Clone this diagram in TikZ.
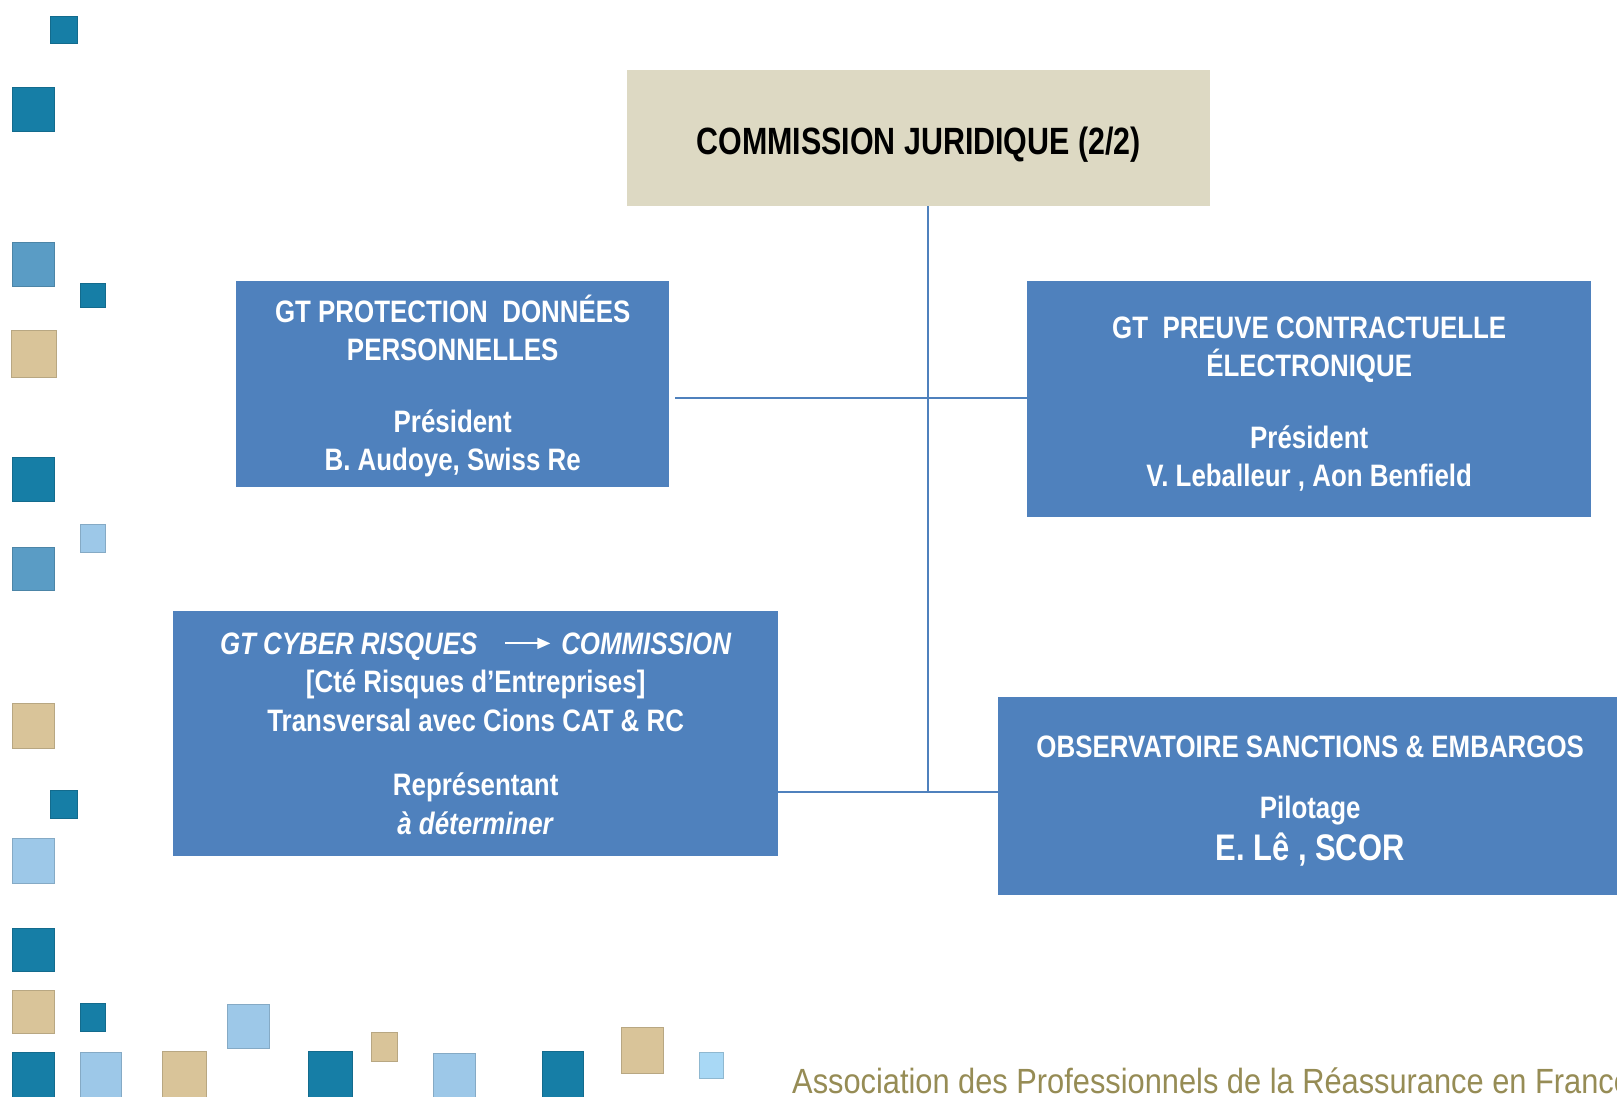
\documentclass[tikz,border=0pt]{standalone}
\usepackage{fontspec}
\setmainfont{Liberation Sans}[FakeStretch=0.835]
\newfontfamily\titlefont{Liberation Sans}[FakeStretch=0.80]
\newfontfamily\footfont{Liberation Sans}[FakeStretch=0.88]
\usetikzlibrary{arrows.meta}
\definecolor{boxblue}{HTML}{4F81BD}
\definecolor{topbeige}{HTML}{DDD9C3}
\definecolor{sqdark}{HTML}{167EA6}
\definecolor{sqmed}{HTML}{5A9CC5}
\definecolor{sqlight}{HTML}{9DC8E8}
\definecolor{sqpale}{HTML}{A8D8F5}
\definecolor{sqtan}{HTML}{D9C499}
\definecolor{footolive}{HTML}{968C55}
\newcommand\apsq[5]{\fill[#5, draw=#5!85!black, line width=1] (#1,#2) rectangle (#3,#4);}
\tikzset{
  gtbox/.style={fill=boxblue, text=white, inner sep=0, align=center, anchor=north west,
    font=\fontsize{31}{38.5}\selectfont\bfseries},
  conn/.style={draw=boxblue, line width=2},
}
\begin{document}
\begin{tikzpicture}[x=1pt,y=-1pt]
\useasboundingbox (0,0) rectangle (1617,1096);
\fill[white] (0,0) rectangle (1617,1096);
% decorative squares, left column
\apsq{50}{16}{77}{43}{sqdark}
\apsq{12}{87}{54}{131}{sqdark}
\apsq{12}{242}{54}{286}{sqmed}
\apsq{80}{283}{105}{307}{sqdark}
\apsq{11}{330}{56}{377}{sqtan}
\apsq{12}{457}{54}{501}{sqdark}
\apsq{80}{524}{105}{552}{sqlight}
\apsq{12}{547}{54}{590}{sqmed}
\apsq{12}{703}{54}{748}{sqtan}
\apsq{50}{790}{77}{818}{sqdark}
\apsq{12}{838}{54}{883}{sqlight}
\apsq{12}{928}{54}{971}{sqdark}
\apsq{12}{990}{54}{1033}{sqtan}
\apsq{80}{1003}{105}{1031}{sqdark}
\apsq{12}{1052}{54}{1100}{sqdark}
\apsq{80}{1052}{121}{1100}{sqlight}
% bottom row
\apsq{162}{1051}{206}{1100}{sqtan}
\apsq{227}{1004}{269}{1048}{sqlight}
\apsq{308}{1051}{352}{1100}{sqdark}
\apsq{371}{1032}{397}{1061}{sqtan}
\apsq{433}{1053}{475}{1100}{sqlight}
\apsq{542}{1051}{583}{1100}{sqdark}
\apsq{621}{1027}{663}{1073}{sqtan}
\apsq{699}{1052}{723}{1078}{sqpale}

% boxes
\node[fill=topbeige, inner sep=0, anchor=north west, minimum width=583, minimum height=136,
  text height=33pt, text depth=0pt,
  font=\titlefont\fontsize{38}{44}\selectfont\bfseries] (top) at (627,70) {COMMISSION JURIDIQUE (2/2)};

\node[gtbox, minimum width=433, minimum height=206] (prot) at (236,281)
  {\rule{0pt}{31pt}GT PROTECTION~ DONNÉES\\PERSONNELLES\\[33pt]Président\\B. Audoye, Swiss Re};

\node[gtbox, minimum width=564, minimum height=236] (preuve) at (1027,281)
  {\rule{0pt}{31pt}GT~ PREUVE CONTRACTUELLE\\ÉLECTRONIQUE\\[33pt]Président\\V. Leballeur , Aon Benfield};

\node[gtbox, minimum width=605, minimum height=245] (cyber) at (173,611)
  {\textit{GT CYBER RISQUES}\hspace{27pt}\tikz[baseline={(0pt,-11pt)}]\draw[white, line width=1.8pt, -{Triangle[length=13pt,width=11pt]}] (0pt,0pt) -- (45pt,0pt);\hspace{10pt}\textit{COMMISSION}\\
   {[}Cté Risques d’Entreprises{]}\\Transversal avec Cions CAT \& RC\\[26pt]Représentant\\\textit{à déterminer}};

\node[gtbox, minimum width=624, minimum height=198] (obs) at (998,697)
  {\rule{0pt}{31pt}OBSERVATOIRE SANCTIONS \& EMBARGOS\\[22.5pt]Pilotage\\[3pt]{\fontsize{37}{38.5}\selectfont E. Lê , SCOR}};

% connectors
\coordinate (j1) at (928,398);
\coordinate (j2) at (928,792);
\draw[conn] (top.south -| j1) -- (j1) -- (j2);
\draw[conn] ([xshift=6pt]prot.east |- j1) -- (preuve.west |- j1);
\draw[conn] (cyber.east |- j2) -- (obs.west |- j2);

% footer
\node[anchor=base west, text=footolive, inner sep=0, font=\footfont\fontsize{35}{40}\selectfont] (foot) at (792,1093)
  {Association des Professionnels de la Réassurance en France};
\end{tikzpicture}
\end{document}
